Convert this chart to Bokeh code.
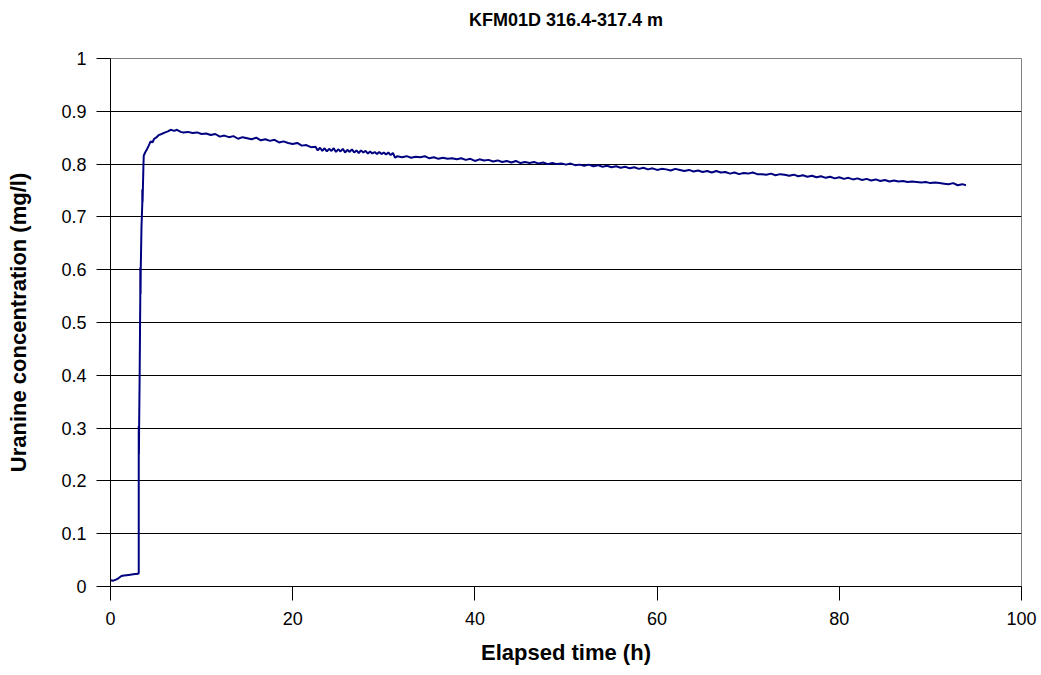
from bokeh.plotting import figure
from bokeh.models import FixedTicker, Range1d, LinearAxis
from bokeh.embed import file_html
from bokeh.resources import INLINE

title_text = "KFM01D 316.4-317.4 m"
x_label = "Elapsed time (h)"
y_label = "Uranine concentration (mg/l)"

x_ticks = [0, 20, 40, 60, 80, 100]
y_ticks = [0, 0.1, 0.2, 0.3, 0.4, 0.5, 0.6, 0.7, 0.8, 0.9, 1.0]
y_tick_labels = ["0", "0.1", "0.2", "0.3", "0.4", "0.5", "0.6", "0.7", "0.8", "0.9", "1"]

# early phase (background and breakthrough)
time_early = [0.0, 0.3, 0.6, 0.9, 1.2, 1.5, 2.0, 2.5, 3.0, 3.10,
              3.10, 3.12, 3.14, 3.20, 3.27, 3.27, 3.30, 3.32, 3.40, 3.49,
              3.49, 3.52, 3.55, 3.62, 3.65, 3.8, 4.0, 4.2, 4.4, 4.6,
              4.8, 5.0, 5.3, 5.6, 6.0, 6.3, 6.6, 7.0, 7.3, 7.7,
              8.0, 8.5, 9.0, 9.5, 10.0, 10.5]
conc_early = [0.012, 0.011, 0.013, 0.016, 0.020, 0.021, 0.022, 0.023, 0.024, 0.025,
              0.304, 0.251, 0.300, 0.400, 0.550, 0.604, 0.554, 0.600, 0.680, 0.725,
              0.752, 0.728, 0.750, 0.800, 0.816, 0.822, 0.828, 0.835, 0.843, 0.841,
              0.848, 0.850, 0.855, 0.857, 0.860, 0.862, 0.865, 0.863, 0.865, 0.861,
              0.860, 0.861, 0.859, 0.860, 0.857, 0.858]

# slow decline
time_late = [11.0, 11.5, 12.0, 12.5, 13.0, 13.5, 14.0, 14.5, 15.0, 15.5,
             16.0, 16.5, 17.0, 17.5, 18.0, 18.5, 19.0, 19.5, 20.0, 20.5,
             21.0, 21.5, 22.0, 22.5, 22.75, 23.0, 23.25, 23.5, 23.75, 24.0,
             24.25, 24.5, 24.75, 25.0, 25.25, 25.5, 25.75, 26.0, 26.25, 26.5,
             26.75, 27.0, 27.25, 27.5, 27.75, 28.0, 28.25, 28.5, 28.75, 29.0,
             29.25, 29.5, 29.75, 30.0, 30.25, 30.5, 30.75, 31.0, 31.25, 31.5,
             32.0, 32.5, 33.0, 33.5, 34.0, 34.5, 35.0, 35.5, 36.0, 36.5,
             37.0, 37.5, 38.0, 38.5, 39.0, 39.5, 40.0, 40.5, 41.0, 41.5,
             42.0, 42.5, 43.0, 43.5, 44.0, 44.5, 45.0, 45.5, 46.0, 46.5,
             47.0, 47.5, 48.0, 48.5, 49.0, 49.5, 50.0, 50.5, 51.0, 51.5,
             52.0, 52.5, 53.0, 53.5, 54.0, 54.5, 55.0, 55.5, 56.0, 56.5,
             57.0, 57.5, 58.0, 58.5, 59.0, 59.5, 60.0, 60.5, 61.0, 61.5,
             62.0, 62.5, 63.0, 63.5, 64.0, 64.5, 65.0, 65.5, 66.0, 66.5,
             67.0, 67.5, 68.0, 68.5, 69.0, 69.5, 70.0, 70.5, 71.0, 71.5,
             72.0, 72.5, 73.0, 73.5, 74.0, 74.5, 75.0, 75.5, 76.0, 76.5,
             77.0, 77.5, 78.0, 78.5, 79.0, 79.5, 80.0, 80.5, 81.0, 81.5,
             82.0, 82.5, 83.0, 83.5, 84.0, 84.5, 85.0, 85.5, 86.0, 86.5,
             87.0, 87.5, 88.0, 88.5, 89.0, 89.5, 90.0, 90.5, 91.0, 91.5,
             92.0, 92.5, 93.0, 93.5, 93.9]
conc_late = [0.855, 0.857, 0.852, 0.854, 0.851, 0.853, 0.848, 0.851, 0.849, 0.847,
             0.850, 0.845, 0.847, 0.844, 0.846, 0.841, 0.843, 0.840, 0.838, 0.840,
             0.835, 0.836, 0.832, 0.833, 0.826, 0.831, 0.825, 0.830, 0.824, 0.829,
             0.825, 0.830, 0.823, 0.828, 0.824, 0.829, 0.822, 0.827, 0.823, 0.828,
             0.822, 0.826, 0.821, 0.826, 0.822, 0.825, 0.820, 0.824, 0.820, 0.823,
             0.819, 0.823, 0.819, 0.822, 0.818, 0.822, 0.817, 0.821, 0.812, 0.815,
             0.813, 0.815, 0.812, 0.814, 0.813, 0.815, 0.811, 0.813, 0.810, 0.812,
             0.810, 0.811, 0.809, 0.811, 0.808, 0.810, 0.806, 0.809, 0.807, 0.808,
             0.805, 0.807, 0.804, 0.806, 0.803, 0.806, 0.802, 0.804, 0.802, 0.804,
             0.801, 0.803, 0.800, 0.802, 0.800, 0.801, 0.799, 0.801, 0.798, 0.799,
             0.797, 0.799, 0.796, 0.798, 0.795, 0.797, 0.794, 0.796, 0.793, 0.795,
             0.792, 0.794, 0.791, 0.793, 0.790, 0.792, 0.789, 0.791, 0.790, 0.788,
             0.791, 0.789, 0.787, 0.789, 0.786, 0.788, 0.785, 0.787, 0.784, 0.787,
             0.784, 0.785, 0.782, 0.784, 0.781, 0.783, 0.782, 0.784, 0.781, 0.781,
             0.780, 0.782, 0.779, 0.781, 0.780, 0.778, 0.780, 0.777, 0.779, 0.776,
             0.778, 0.775, 0.777, 0.774, 0.776, 0.773, 0.775, 0.772, 0.774, 0.771,
             0.773, 0.770, 0.772, 0.769, 0.771, 0.768, 0.770, 0.767, 0.769, 0.767,
             0.768, 0.766, 0.767, 0.766, 0.765, 0.766, 0.764, 0.765, 0.764, 0.763,
             0.762, 0.764, 0.760, 0.762, 0.760]

time_h = time_early + time_late
conc = conc_early + conc_late

FONT = "Liberation Sans"

p = figure(width=1041, height=675, output_backend="svg", toolbar_location=None,
           x_range=Range1d(0, 100), y_range=Range1d(0, 1), title_location=None,
           min_border_left=110, min_border_right=20, min_border_top=58, min_border_bottom=89)
p.background_fill_color = "white"
p.border_fill_color = "white"
p.outline_line_color = "#808080"
p.outline_line_width = 1

# chart title, carried by a bare axis above the frame
title_axis = LinearAxis(ticker=FixedTicker(ticks=[]), axis_label=title_text,
                        axis_line_color=None, major_tick_line_color=None,
                        minor_tick_line_color=None, major_label_text_font_size="0px",
                        axis_label_text_font=FONT, axis_label_text_font_size="18px",
                        axis_label_text_font_style="bold", axis_label_text_color="black",
                        axis_label_standoff=29)
p.add_layout(title_axis, "above")

p.line(time_h, conc, line_color="#000080", line_width=2)

p.xgrid.grid_line_color = None
p.ygrid.grid_line_color = "black"
p.ygrid.grid_line_width = 1
p.ygrid.ticker = FixedTicker(ticks=y_ticks)

p.below[0].ticker = FixedTicker(ticks=x_ticks)
p.left[0].ticker = FixedTicker(ticks=y_ticks)
p.left[0].major_label_overrides = {t: s for t, s in zip(y_ticks, y_tick_labels)}

for ax in (p.below[0], p.left[0]):
    ax.axis_line_color = "black"
    ax.axis_line_width = 1
    ax.major_tick_line_color = "black"
    ax.major_tick_in = 0
    ax.major_tick_out = 14
    ax.minor_tick_line_color = None
    ax.major_label_text_font = FONT
    ax.major_label_text_font_size = "18px"
    ax.major_label_text_color = "black"
    ax.axis_label_text_font = FONT
    ax.axis_label_text_font_size = "22px"
    ax.axis_label_text_font_style = "bold"
    ax.axis_label_text_color = "black"

p.below[0].axis_label = x_label
p.left[0].axis_label = y_label
p.below[0].major_label_standoff = 11
p.below[0].axis_label_standoff = 12
p.left[0].major_label_standoff = 10
p.left[0].axis_label_standoff = 27

open("out.html", "w").write(file_html(p, INLINE))
